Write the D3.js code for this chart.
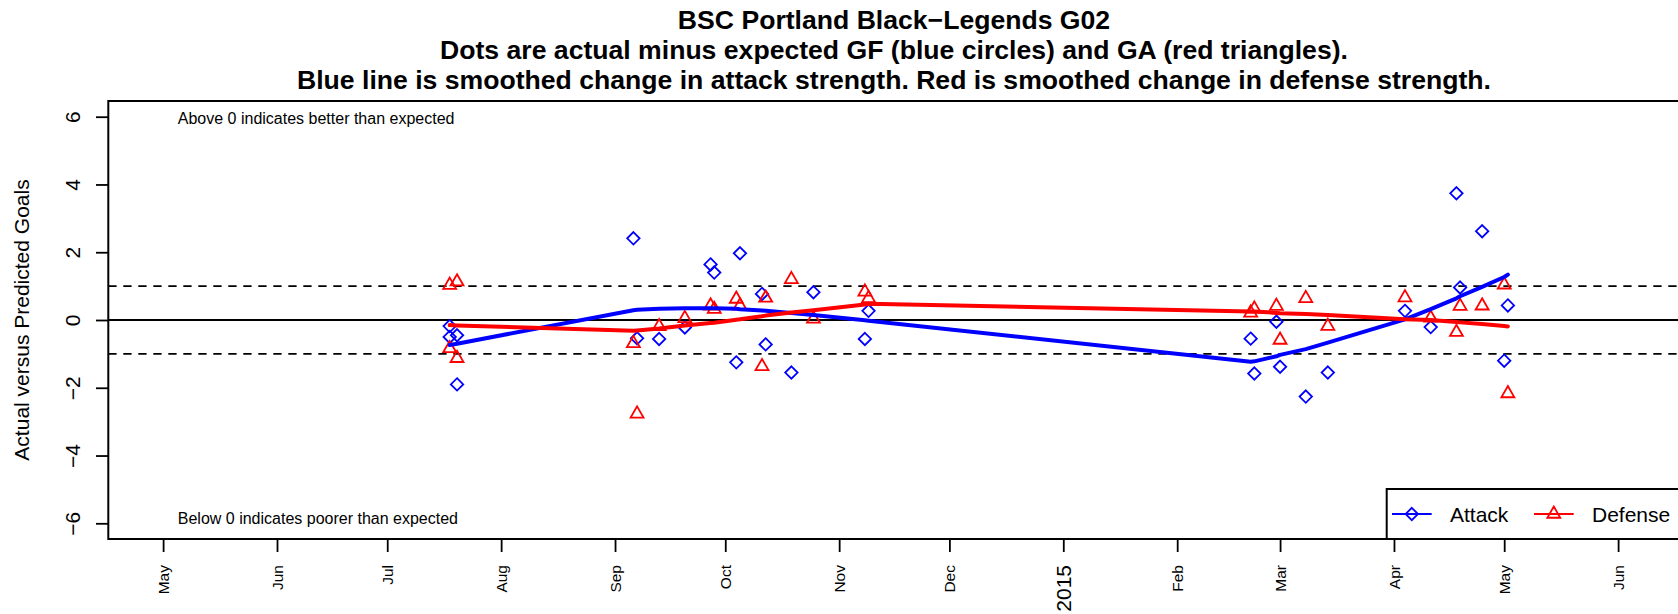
<!DOCTYPE html>
<html>
<head>
<meta charset="utf-8">
<script src="https://cdn.jsdelivr.net/npm/d3@7.9.0/dist/d3.min.js"></script>
<style>
  body { margin: 0; background: #fff; }
  svg { display: block; font-family: "Liberation Sans", Arial, Helvetica, sans-serif; }
</style>
</head>
<body>
<svg id="chart" width="1678" height="614"></svg>
<script>
// Game dates
const gameDates = [
  '2014-07-18', '2014-07-18', '2014-07-20', '2014-07-20',
  '2014-09-06', '2014-09-07', '2014-09-13', '2014-09-20', '2014-09-27', '2014-09-28',
  '2014-10-04', '2014-10-05', '2014-10-11', '2014-10-12', '2014-10-19', '2014-10-25',
  '2014-11-08', '2014-11-09',
  '2015-02-21', '2015-02-22', '2015-02-28', '2015-03-01', '2015-03-08', '2015-03-14',
  '2015-04-04', '2015-04-11', '2015-04-18', '2015-04-19', '2015-04-25', '2015-05-01', '2015-05-02'
];

// Actual minus expected goals for (attack) and against (defense)
const attackValues = [
  -0.18, -0.50, -0.45, -1.90,
  2.41, -0.54, -0.56, -0.22, 1.64, 1.40,
  -1.25, 1.97, 0.77, -0.72, -1.55, 0.82,
  -0.56, 0.27,
  -0.55, -1.58, -0.05, -1.38, -2.26, -1.55,
  0.27, -0.21, 3.74, 0.96, 2.62, -1.20, 0.43
];
const defenseValues = [
  1.03, -0.84, 1.13, -1.13,
  -0.69, -2.77, -0.19, 0.05, 0.42, 0.32,
  0.62, 0.42, -1.37, 0.65, 1.20, 0.03,
  0.83, 0.64,
  0.21, 0.33, 0.41, -0.59, 0.64, -0.18,
  0.66, 0.06, -0.36, 0.41, 0.42, 1.04, -2.17
];

// Smoothed change in strength
const attackSmooth = [
  -0.74, -0.74, -0.70, -0.70,
  0.29, 0.30, 0.33, 0.35, 0.35, 0.35,
  0.33, 0.32, 0.28, 0.27, 0.21, 0.15,
  -0.01, -0.02,
  -1.23, -1.22, -1.07, -1.03, -0.86, -0.67,
  0.02, 0.32, 0.64, 0.70, 0.98, 1.27, 1.34
];
const defenseSmooth = [
  -0.15, -0.15, -0.16, -0.16,
  -0.32, -0.31, -0.25, -0.16, -0.09, -0.08,
  0.01, 0.02, 0.11, 0.13, 0.22, 0.29,
  0.46, 0.48,
  0.25, 0.25, 0.21, 0.20, 0.18, 0.15,
  0.02, 0.00, -0.06, -0.07, -0.12, -0.18, -0.19
];

// Axis ticks
const xTickDates = [
  '2014-05-01', '2014-06-01', '2014-07-01', '2014-08-01', '2014-09-01', '2014-10-01',
  '2014-11-01', '2014-12-01', '2015-01-01', '2015-02-01', '2015-03-01', '2015-04-01',
  '2015-05-01', '2015-06-01'
];
const xTickLabels = ['May', 'Jun', 'Jul', 'Aug', 'Sep', 'Oct', 'Nov', 'Dec', '2015',
  'Feb', 'Mar', 'Apr', 'May', 'Jun'];
const yTicks = [-6, -4, -2, 0, 2, 4, 6];
const refLines = [-1, 1];

const titleLines = [
  'BSC Portland Black\u2212Legends G02',
  'Dots are actual minus expected GF (blue circles) and GA (red triangles).',
  'Blue line is smoothed change in attack strength. Red is smoothed change in defense strength.'
];
const notes = [
  { text: 'Above 0 indicates better than expected', date: '2014-05-05', value: 5.95 },
  { text: 'Below 0 indicates poorer than expected', date: '2014-05-05', value: -5.85 }
];

const parseDate = d3.timeParse('%Y-%m-%d');
const games = gameDates.map((d, i) => ({
  date: parseDate(d),
  attack: attackValues[i],
  defense: defenseValues[i],
  attackSmooth: attackSmooth[i],
  defenseSmooth: defenseSmooth[i]
}));

// Plot region
const plot = { left: 108.3, right: 1680, top: 101, bottom: 539 };

const x = d3.scaleTime()
  .domain([parseDate('2014-05-01'), parseDate('2015-06-01')])
  .range([163.1, 1618.1]);
const y = d3.scaleLinear()
  .domain([-6, 6])
  .range([523.3, 116.7]);

const svg = d3.select('#chart');
const blue = '#0000ff';
const red = '#ff0000';

// Title
svg.append('g')
  .selectAll('text')
  .data(titleLines)
  .join('text')
  .attr('x', 894)
  .attr('y', (d, i) => 29.3 + i * 30)
  .attr('text-anchor', 'middle')
  .attr('font-size', 26.6)
  .attr('font-weight', 'bold')
  .text(d => d);

// Reference lines
svg.append('g')
  .selectAll('line')
  .data(refLines)
  .join('line')
  .attr('x1', plot.left).attr('x2', plot.right)
  .attr('y1', d => y(d)).attr('y2', d => y(d))
  .attr('stroke', '#000')
  .attr('stroke-width', 1.8)
  .attr('stroke-dasharray', '8.3,6.7');

svg.append('line')
  .attr('x1', plot.left).attr('x2', plot.right)
  .attr('y1', y(0)).attr('y2', y(0))
  .attr('stroke', '#000')
  .attr('stroke-width', 1.8);

// Notes
svg.append('g')
  .selectAll('text')
  .data(notes)
  .join('text')
  .attr('x', d => x(parseDate(d.date)))
  .attr('y', d => y(d.value))
  .attr('dy', '0.36em')
  .attr('font-size', 16)
  .text(d => d.text);

// Symbols
const diamond = (s) => `M0,${-s}L${s},0L0,${s}L${-s},0Z`;
const triangle = (s) => `M0,${-s * 1.555}L${s * 1.347},${s * 0.778}L${-s * 1.347},${s * 0.778}Z`;

svg.append('g')
  .selectAll('path')
  .data(games)
  .join('path')
  .attr('transform', d => `translate(${x(d.date)},${y(d.attack)})`)
  .attr('d', diamond(6.2))
  .attr('fill', 'none')
  .attr('stroke', blue)
  .attr('stroke-width', 1.8);

svg.append('g')
  .selectAll('path')
  .data(games)
  .join('path')
  .attr('transform', d => `translate(${x(d.date)},${y(d.defense)})`)
  .attr('d', triangle(4.8))
  .attr('fill', 'none')
  .attr('stroke', red)
  .attr('stroke-width', 1.8);

// Smoothed lines
const attackLine = d3.line().x(d => x(d.date)).y(d => y(d.attackSmooth));
const defenseLine = d3.line().x(d => x(d.date)).y(d => y(d.defenseSmooth));

svg.append('path')
  .datum(games)
  .attr('d', attackLine)
  .attr('fill', 'none')
  .attr('stroke', blue)
  .attr('stroke-width', 4)
  .attr('stroke-linejoin', 'round')
  .attr('stroke-linecap', 'round');

svg.append('path')
  .datum(games)
  .attr('d', defenseLine)
  .attr('fill', 'none')
  .attr('stroke', red)
  .attr('stroke-width', 4)
  .attr('stroke-linejoin', 'round')
  .attr('stroke-linecap', 'round');

// X axis
const xAxis = svg.append('g')
  .attr('transform', `translate(0,${plot.bottom})`)
  .call(d3.axisBottom(x)
    .tickValues(xTickDates.map(parseDate))
    .tickFormat((d, i) => xTickLabels[i])
    .tickSize(13));
xAxis.select('.domain').remove();
xAxis.selectAll('.tick line').attr('stroke-width', 1.8);
xAxis.selectAll('.tick text')
  .attr('font-family', null)
  .attr('font-size', (d, i) => xTickLabels[i] === '2015' ? 21 : 15.5)
  .attr('fill', '#000')
  .attr('x', -26)
  .attr('y', 0)
  .attr('dy', '0.35em')
  .attr('text-anchor', 'end')
  .attr('transform', 'rotate(-90)');

// Y axis
const yAxis = svg.append('g')
  .attr('transform', `translate(${plot.left},0)`)
  .call(d3.axisLeft(y)
    .tickValues(yTicks)
    .tickFormat(d => d < 0 ? '\u2212' + Math.abs(d) : d)
    .tickSize(12.3));
yAxis.select('.domain').remove();
yAxis.selectAll('.tick line').attr('stroke-width', 1.8);
yAxis.selectAll('.tick text')
  .attr('font-family', null)
  .attr('font-size', 21)
  .attr('fill', '#000')
  .attr('x', 0)
  .attr('y', -28.3)
  .attr('dy', null)
  .attr('text-anchor', 'middle')
  .attr('transform', 'rotate(-90)');

svg.append('text')
  .attr('transform', `translate(29.3,${(plot.top + plot.bottom) / 2}) rotate(-90)`)
  .attr('text-anchor', 'middle')
  .attr('font-size', 21)
  .text('Actual versus Predicted Goals');

// Plot box
svg.append('rect')
  .attr('x', plot.left)
  .attr('y', plot.top)
  .attr('width', plot.right - plot.left)
  .attr('height', plot.bottom - plot.top)
  .attr('fill', 'none')
  .attr('stroke', '#000')
  .attr('stroke-width', 2);

// Legend
const legend = svg.append('g');
legend.append('rect')
  .attr('x', 1386.7)
  .attr('y', 489)
  .attr('width', plot.right - 1386.7)
  .attr('height', plot.bottom - 489)
  .attr('fill', '#fff')
  .attr('stroke', '#000')
  .attr('stroke-width', 2);

const legendItems = [
  { label: 'Attack', color: blue, shape: diamond(6.2), x: 1392 },
  { label: 'Defense', color: red, shape: triangle(4.8), x: 1534 }
];
legendItems.forEach(item => {
  let g = legend.append('g').attr('transform', `translate(${item.x},514)`);
  g.append('line')
    .attr('x1', 0).attr('x2', 39.7)
    .attr('stroke', item.color)
    .attr('stroke-width', 1.8);
  g.append('path')
    .attr('transform', 'translate(19.8,0)')
    .attr('d', item.shape)
    .attr('fill', 'none')
    .attr('stroke', item.color)
    .attr('stroke-width', 1.8);
  g.append('text')
    .attr('x', 58)
    .attr('dy', '0.36em')
    .attr('font-size', 21)
    .text(item.label);
});
</script>
</body>
</html>
